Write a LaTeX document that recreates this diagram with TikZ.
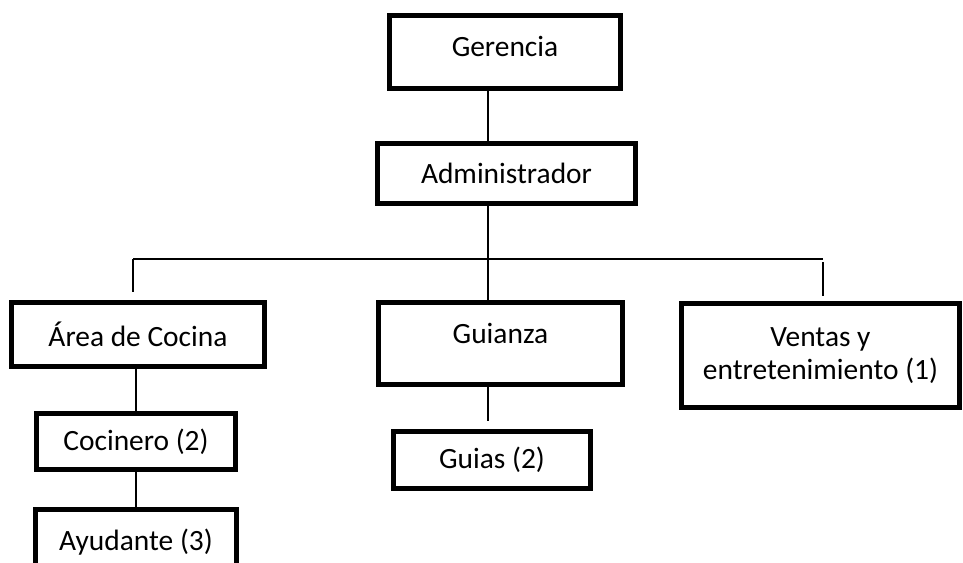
\documentclass[tikz,border=0pt]{standalone}
\usepackage{fontspec}
\setmainfont{Carlito}
\usetikzlibrary{positioning}
\tikzset{
  box/.style={draw, line width=2.85pt, align=center, inner sep=0pt, fill=white, font=\fontsize{16.75}{18.8}\selectfont},
  link/.style={line width=0.85pt},
}

\begin{document}
\begin{tikzpicture}[x=0.02cm, y=-0.02cm]
\useasboundingbox (0,0) rectangle (963,562);
\node[box, minimum width=4.62cm, minimum height=1.46cm, text depth=0.24cm] (gerencia) at (505,52) {Gerencia};
\node[box, minimum width=5.16cm, minimum height=1.2cm] (admin) at (506.5,173.5) {Administrador};
\node[box, minimum width=5.06cm, minimum height=1.28cm] (cocina) at (138,334.5) {Área de Cocina};
\node[box, minimum width=4.88cm, minimum height=1.64cm, text depth=0.42cm] (guianza) at (500.5,343.5) {Guianza};
\node[box, minimum width=5.56cm, minimum height=2.08cm] (ventas) at (820.5,355.5) {Ventas y\\entretenimiento (1)};
\node[box, minimum width=3.98cm, minimum height=1.12cm] (cocinero) at (136,441.5) {Cocinero (2)};
\node[box, minimum width=3.94cm, minimum height=1.14cm] (guias) at (492,460) {Guias (2)};
\node[box, minimum width=4.02cm, minimum height=1.3cm] (ayudante) at (136,542) {Ayudante (3)};
% trunk and bus
\coordinate (trunk) at (488,259);
\coordinate (busL) at (133,259);
\coordinate (busR) at (823,259);
\draw[link] (gerencia.south -| trunk) -- (admin.north -| trunk);
\draw[link] (admin.south -| trunk) -- (guianza.north -| trunk);
\draw[link] (busL) -- (busR);
\draw[link, shorten >=0.16cm] (busL) -- (busL |- cocina.north);
\draw[link, shorten <=0.06cm, shorten >=0.1cm] (busR) -- (busR |- ventas.north);
% lower levels
\draw[link] (cocina.south -| cocinero) -- (cocinero.north);
\draw[link] (cocinero) -- (ayudante);
\draw[link, shorten >=0.16cm] (guianza.south -| trunk) -- (guias.north -| trunk);
\end{tikzpicture}
\end{document}
